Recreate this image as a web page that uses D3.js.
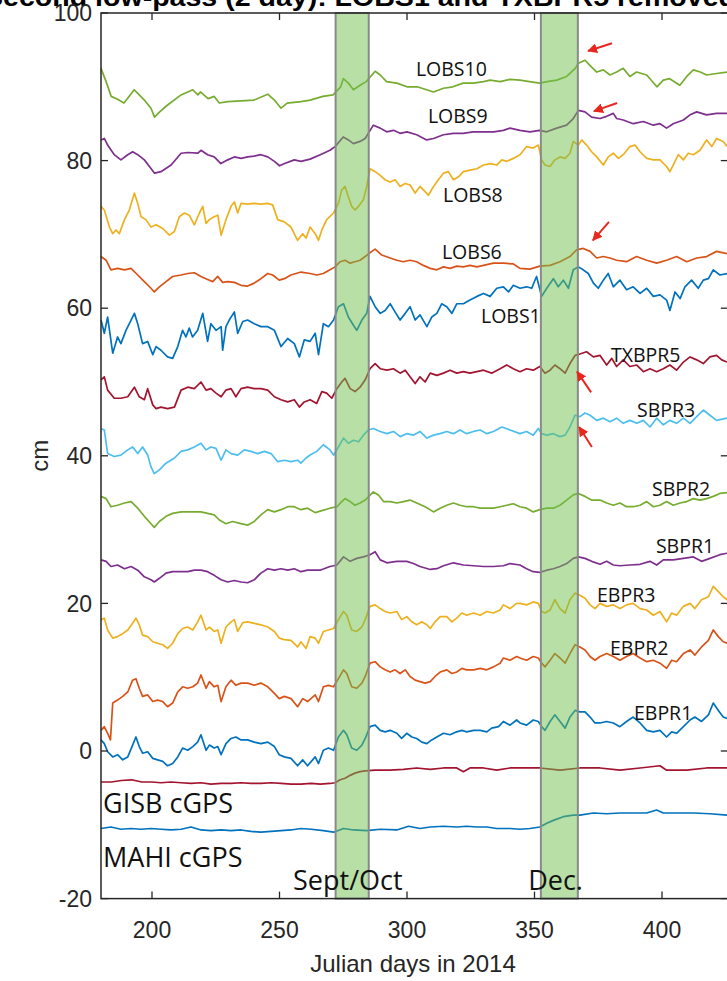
<!DOCTYPE html>
<html>
<head>
<meta charset="utf-8">
<script src="https://cdn.jsdelivr.net/npm/d3@7"></script>
<style>
  html, body { margin: 0; padding: 0; background: #fff; overflow: hidden; }
  #chart_div { width: 727px; height: 981px; }
  .tick-font { font-family: "Liberation Sans", Arial, sans-serif; fill: #262626; }
  .series-font { font-family: "Open Sans", "Noto Sans", sans-serif; fill: #111; }
</style>
</head>
<body>
<div id="chart_div"></div>
<script>
// day-of-year / cm readings for each station
const lobs10 = [[180,92.5],[182,90.7],[184,88.7],[186.5,88.3],[189,87.8],[191,88.7],[193,89.6],[195,88.9],[197,88.2],[199.6,87.1],[201,85.9],[203,86.6],[206,87.5],[211.4,88.9],[216,89.6],[218,88.9],[219,89.3],[222,88.4],[224.4,88.7],[226.4,87.8],[229.7,88.0],[235,88.1],[240,88.2],[245.4,89.0],[248,88.2],[250.6,87.1],[253,87.8],[258.4,88.0],
  [262,88.2],[267,88.7],[271,88.9],[274,90.0],[275,91.1],[277,90.5],[279,89.6],[281.6,90.2],[284,90.7],[287.5,92.1],[289.5,91.6],[292,90.7],[296,90.5],[300,90.0],[304,90.0],[307.7,89.6],[310.4,89.3],[314.3,89.8],[318,90.0],[322,90.5],[326,90.5],[330,90.7],[332.6,90.9],[336.5,90.7],[340.4,91.0],
  [344.3,90.9],[348,90.7],[352,90.5],[355,90.7],[358.7,90.9],[362.6,91.4],[366,92.5],[367.2,93.2],[369.8,93.6],[371.7,92.9],[374.4,92.0],[377,92.3],[379.6,91.6],[382.2,92.0],[384.8,92.5],[387.4,91.4],[390,92.0],[394,91.6],[398,90.0],[400.5,90.9],[403,91.1],[407,90.2],[409.7,91.4],[412.3,92.3],[415,92.0],[417.5,91.6],[421.4,91.8],[425.5,92.0]];

const lobs9 = [[180,82.8],[181.3,83.0],[182.6,82.1],[185.2,80.8],[187.8,80.1],[190.5,80.8],[192.4,81.2],[194.4,80.8],[197,80.1],[199,79.2],[201,78.3],[203.5,78.5],[207.5,79.4],[211.4,81.0],[214,81.1],[218,81.0],[219.2,81.4],[221.8,80.8],[224.4,80.5],[227,79.6],[229.7,80.1],[232.3,80.5],[235,80.3],[237.5,80.5],[240,80.6],[242.7,80.8],[245.4,80.5],[248,79.9],[250,79.3],[252,79.6],[255.8,80.1],[258.4,79.9],
  [262,80.2],[266,80.8],[269.8,81.4],[271.8,81.9],[275,83.2],[277,82.8],[279,82.3],[281.6,82.6],[283.6,83.0],[286.8,84.8],[289.5,84.4],[292,83.9],[294.7,84.1],[297.3,83.7],[300,83.9],[303.8,83.5],[307.7,82.8],[310.4,83.0],[314.3,83.5],[318.2,83.7],[322,83.7],[326,83.9],[330,83.9],[334,83.9],[337.8,84.1],[340.4,84.4],
  [344.3,84.1],[348.2,83.9],[352,84.1],[354.8,83.9],[358.7,84.4],[362.6,84.8],[365.2,85.7],[367.2,86.8],[369.8,86.6],[372.4,85.9],[375.7,85.7],[378.3,86.0],[380.9,86.4],[382.2,85.7],[384.8,85.5],[388.7,85.0],[392.7,85.3],[396.6,84.8],[399.2,85.0],[401.8,84.4],[404.4,85.0],[408.4,85.5],[411,86.2],[413.6,86.6],[417.5,86.2],[421.4,86.4],[425.5,86.4]];

const lobs8 = [[180,73.8],[181.3,73.3],[183.3,71.0],[184.6,70.1],[185.9,70.6],[187.2,70.1],[189.2,72.0],[191.1,73.3],[193.1,75.6],[194.4,74.2],[195.7,72.4],[197.6,72.0],[199.6,71.0],[201.6,71.3],[204.2,70.8],[206.8,69.9],[208.8,70.4],[210.7,72.4],[212.7,72.9],[214.6,72.6],[216.6,71.3],[218.6,72.9],[219.9,73.8],[221.2,71.5],[222.5,72.0],[224.4,72.4],[225.8,72.6],[227.1,69.9],[229,72.0],[231,73.8],[232.3,74.4],[233.6,72.9],[234.9,74.2],[237.5,74.1],[240,74.2],[242.7,74.1],[245.4,74.2],[247.3,74.0],[249.3,72.0],[251.9,71.7],[254.5,71.0],[257.1,69.2],[259.1,70.1],[260.4,69.5],
  [262,71.0],[264,70.1],[265.3,69.2],[266.6,70.6],[268.5,72.0],[271.2,72.9],[273.1,74.2],[274.4,76.0],[275.7,76.5],[277,75.1],[278.3,73.8],[279.6,73.3],[281,73.8],[282.9,74.7],[284.2,76.5],[285.5,78.9],[287.5,78.5],[289.5,78.0],[291.4,77.4],[293.4,77.1],[295.3,77.4],[297.3,76.5],[299.3,76.9],[301.2,76.7],[303.2,75.6],[305.1,76.5],[307.1,75.8],[308.4,75.3],[310.4,76.5],[312.3,77.4],[314.3,78.3],[316.2,78.5],[318.2,77.4],[320.2,77.8],[322.1,78.5],[324.7,78.7],[327.4,78.9],[330,79.4],[332.6,79.6],[335.2,79.4],[337.2,80.1],[339.1,79.9],[341.7,80.3],
  [344.3,80.8],[346.9,81.9],[349.5,81.7],[351.5,82.1],[352.8,80.1],[354.1,79.4],[356.1,79.2],[358,80.1],[360,80.5],[362,80.3],[363.9,81.0],[365.2,82.6],[367.2,82.1],[368.5,82.8],[370.4,82.1],[372.4,81.2],[374.4,80.5],[377,79.4],[378.9,80.5],[380.9,81.0],[382.9,80.3],[384.8,80.8],[387.4,81.9],[389.4,82.1],[391.4,81.2],[394,80.3],[396.6,80.1],[399.2,80.1],[401.8,79.2],[403.1,78.5],[404.4,79.4],[406.4,80.8],[408.4,80.1],[410.3,81.0],[412.3,80.8],[414.9,81.4],[417.5,82.8],[419.5,81.9],[421.4,83.0],[424,82.6],[425.5,81.9]];

const lobs6 = [[180,67.0],[182,66.5],[183.9,65.2],[186.5,65.4],[189.2,65.2],[191.8,65.4],[194.4,64.5],[197,63.6],[199.6,62.7],[200.9,62.2],[202.9,62.9],[205.5,63.6],[208.1,64.3],[211.4,64.5],[214,64.7],[216.6,64.8],[219.2,64.3],[221.8,63.9],[223.8,63.6],[225.8,64.3],[227.7,63.5],[229.7,63.6],[232.3,63.5],[234.9,63.1],[237.5,63.0],[240.1,63.4],[242.7,64.0],[245.4,64.7],[247.3,64.5],[249.9,63.8],[251.9,64.0],[254.5,64.5],[258.4,64.9],
  [262,64.7],[264.6,64.5],[267.2,64.7],[269.8,65.2],[271.8,65.6],[273.8,66.3],[275.7,66.5],[277.7,66.1],[279.6,66.3],[281.6,66.5],[283.6,67.0],[286.2,67.7],[287.5,68.0],[290.1,67.2],[293.4,66.8],[296,66.5],[298.6,66.3],[301.2,66.5],[303.8,66.3],[306.4,65.8],[309.1,65.4],[311.7,65.2],[314.3,65.6],[316.9,65.4],[319.5,65.7],[322.1,65.6],[324.7,65.8],[327.4,65.6],[330,65.8],[333.9,66.1],[337.8,66.1],[341.7,66.0],
  [344.3,65.4],[348.2,65.3],[352.1,65.7],[356.1,65.8],[360,66.3],[363.9,67.0],[366.5,67.9],[369.1,68.1],[371.8,67.7],[374.4,66.8],[377,67.0],[379.6,66.8],[382.2,66.5],[386.1,66.3],[390,67.0],[394,66.5],[397.9,66.1],[401.8,66.5],[405.7,67.0],[409.7,66.3],[413.6,66.8],[417.5,67.0],[421.4,67.7],[425.5,67.4]];

const lobs1 = [[180,58.4],[181.3,56.6],[182.6,58.8],[184.6,53.9],[186.5,56.1],[187.8,55.2],[189.8,57.0],[191.8,58.4],[193.1,59.3],[194.4,57.9],[196.3,55.2],[198.3,55.5],[200.3,53.7],[201.6,54.8],[203.5,54.3],[206.1,53.4],[208.1,53.2],[210.1,54.8],[212,57.0],[213.3,56.1],[214.6,57.3],[215.9,56.1],[217.9,57.0],[219.9,59.3],[221.8,55.5],[223.1,57.9],[225.1,57.0],[227.1,57.5],[227.7,54.3],[229,57.5],[230.3,58.4],[232.3,59.5],[233.6,56.6],[235.6,58.2],[237.5,58.4],[240.1,57.9],[242.7,57.5],[245.4,57.5],[248,57.0],[250.6,54.8],[253.2,55.9],[255.8,55.2],[257.8,53.4],[259.7,55.7],
  [262,55.5],[264,56.6],[265.3,53.7],[267.2,57.9],[269.2,57.5],[271.2,58.4],[273.1,60.2],[275.1,60.6],[277,58.8],[279,57.7],[280.3,57.0],[282.3,58.4],[284.2,59.3],[285.5,61.6],[287.5,60.2],[289.5,59.3],[291.4,59.7],[293.4,60.6],[295.3,59.5],[297.3,58.4],[299.3,59.3],[301.2,60.2],[303.2,58.4],[305.1,59.1],[307.8,57.5],[309.7,58.8],[311.7,59.3],[313.6,60.6],[315.6,60.2],[317.6,59.3],[319.5,60.6],[322.1,60.6],[324.7,61.1],[327.4,61.6],[330,62.0],[332.6,61.6],[335.2,62.7],[337.8,62.9],[339.8,62.2],[341.7,63.1],
  [344.3,62.7],[346.9,62.9],[348.9,62.7],[350.8,64.3],[352.8,61.6],[354.8,62.7],[357.4,64.0],[359.3,62.9],[361.3,63.8],[363.3,62.7],[365.2,65.2],[367.2,65.6],[369.1,65.2],[371.1,64.7],[373.1,63.4],[375,62.7],[377,63.8],[378.9,64.7],[380.9,62.9],[383.5,63.8],[386.1,62.5],[388.7,62.9],[391.4,62.0],[394,62.7],[396.6,61.6],[399.2,61.8],[401.8,61.1],[403.1,59.7],[405.1,62.2],[407.1,61.3],[409,62.9],[411.6,63.8],[414.2,62.7],[416.2,63.8],[418.2,64.0],[420.1,65.2],[422.7,64.5],[425.5,64.7]];

const txbpr5 = [[180,50.3],[181.3,50.7],[182.6,48.9],[185.2,47.8],[187.8,47.8],[190.5,48.0],[193.1,49.3],[195,48.0],[197,47.6],[198.3,49.1],[200.3,46.9],[201.6,46.4],[203.5,46.6],[206.1,46.4],[208.8,46.6],[211.4,48.9],[214,49.3],[216.6,49.1],[219.2,50.0],[221.2,48.9],[223.1,49.1],[225.1,48.5],[227.1,48.0],[229,48.9],[231,49.1],[232.9,48.0],[234.9,49.1],[237.5,49.3],[240.1,49.1],[242.7,49.1],[245.4,48.9],[248,48.0],[250.6,47.6],[253.2,47.3],[255.8,47.6],[257.8,46.6],[259.7,47.3],
  [262,47.6],[264.6,47.1],[266.6,48.7],[268.5,48.5],[270.5,47.8],[272.5,49.1],[274.4,50.0],[275.7,50.5],[277.7,49.1],[279.6,48.7],[281.6,49.3],[283.6,50.3],[285.5,51.8],[287.5,52.5],[289.5,51.8],[292.1,51.6],[294.7,51.8],[297.3,51.2],[299.3,51.6],[301.2,50.7],[303.2,49.8],[305.1,50.7],[307.1,50.0],[309.1,51.2],[311.7,50.9],[314.3,51.2],[316.9,51.6],[319.5,51.2],[322.1,51.4],[324.7,51.2],[327.4,51.4],[330,51.6],[333.2,51.2],[336.5,51.8],[339.1,52.3],[341.7,51.8],
  [344.3,51.4],[346.9,51.8],[349.5,51.6],[352.1,52.1],[354.1,51.2],[356.1,51.6],[358,52.3],[360,51.8],[362,51.2],[363.9,52.5],[365.9,53.6],[367.8,53.8],[370.4,54.1],[373.1,53.4],[375.7,53.6],[378.3,52.3],[380.3,53.2],[382.2,52.1],[384.8,53.0],[387.4,52.1],[390.1,52.3],[392.7,51.4],[395.3,51.8],[397.9,51.4],[400.5,51.8],[403.1,52.3],[405.7,51.6],[408.4,52.7],[411,53.4],[413.6,53.0],[416.2,52.5],[418.8,53.4],[421.4,53.6],[423.4,53.0],[425.5,52.7]];

const sbpr3 = [[180,43.7],[181.3,43.5],[182.6,40.3],[185.2,39.9],[187.8,40.1],[190.5,40.8],[192.4,41.2],[194.4,40.3],[196.3,41.2],[198.3,40.1],[199.6,38.5],[200.9,37.6],[202.9,38.1],[205.5,39.0],[208.8,39.7],[211.4,40.6],[214,40.8],[216.6,41.2],[219.2,41.7],[221.2,40.8],[223.1,41.2],[225.1,41.0],[227.1,39.4],[229,40.8],[231,40.3],[233.6,40.1],[236.2,40.8],[238.8,40.6],[241.4,40.3],[244.1,40.6],[246.7,40.3],[249.3,39.2],[251.9,39.4],[254.5,39.2],[257.1,39.4],[258.4,39.0],[260.4,39.7],
  [262,40.1],[264.6,40.6],[267.2,41.5],[269.8,40.8],[271.2,40.1],[273.1,41.2],[275.1,42.4],[277,41.7],[279,42.1],[281,41.9],[282.9,42.8],[284.9,43.5],[286.8,43.7],[289.5,43.3],[292.1,43.0],[294.7,43.3],[297.3,42.6],[299.9,43.0],[302.5,42.8],[305.1,43.3],[307.8,42.4],[310.4,42.8],[313,43.0],[315.6,43.3],[318.2,43.0],[320.8,43.5],[323.4,43.0],[326.1,43.3],[328.7,43.5],[331.3,43.0],[333.9,43.3],[337.2,43.9],[340.4,43.5],
  [344.3,43.0],[346.9,43.3],[349.5,42.8],[351.5,43.7],[352.8,43.0],[354.8,42.8],[357.4,43.0],[360,42.6],[362,42.8],[363.9,43.9],[365.9,45.5],[367.8,45.3],[369.8,45.8],[371.8,45.5],[374.4,44.8],[377,45.1],[379.6,44.6],[382.2,45.1],[384.8,44.4],[387.4,44.8],[390.1,44.4],[392.7,44.8],[395.3,43.9],[397.9,45.1],[400.5,44.2],[403.1,44.8],[405.7,44.4],[408.4,45.1],[411,44.4],[413.6,45.3],[416.2,46.2],[418.8,45.5],[421.4,44.8],[425.5,45.1]];

const sbpr2 = [[180,34.5],[182,34.2],[183.9,33.1],[186.5,33.3],[189.2,33.6],[191.8,33.8],[194.4,32.9],[197,31.8],[199.6,30.8],[200.9,30.3],[202.9,31.1],[205.5,31.8],[208.1,32.2],[211.4,32.4],[214,32.4],[216.6,32.4],[219.2,32.4],[221.8,32.2],[224.4,32.0],[226.4,31.3],[229,30.8],[231.6,31.1],[234.9,30.8],[237.5,30.6],[240.1,31.1],[242.7,32.0],[245.4,32.7],[248,32.4],[250.6,32.7],[253.2,33.1],[255.8,33.1],[258.4,32.7],[261,32.9],
  [264,32.3],[269.8,32.9],[272.5,33.1],[274.4,33.8],[275.7,34.2],[277.7,33.8],[279.6,33.3],[281.6,33.6],[283.6,34.0],[286.8,35.1],[288.8,34.7],[290.8,33.8],[293.4,33.8],[296,33.6],[298.6,33.8],[301.2,34.0],[303.8,33.6],[307.1,33.1],[310.4,32.4],[313,32.9],[315.6,33.3],[318.2,33.6],[320.8,33.3],[323.4,33.1],[326.1,33.1],[328.7,32.9],[331.3,32.9],[333.9,32.9],[336.5,33.1],[339.1,33.3],[341.7,33.5],
  [344.3,33.1],[346.9,32.9],[349.5,32.4],[352.1,32.7],[354.8,32.9],[357.4,32.9],[360,33.3],[362.6,34.0],[365.2,34.7],[367.2,34.9],[369.8,34.5],[372.4,34.0],[375.7,34.0],[378.3,33.6],[380.9,33.3],[383.5,33.6],[386.1,33.1],[388.7,33.1],[391.4,33.3],[394,33.8],[396.6,33.1],[399.2,33.3],[401.8,33.8],[404.4,33.3],[407.1,33.6],[409.7,33.8],[412.3,34.2],[414.9,34.0],[417.5,34.2],[420.1,34.5],[422.7,34.9],[425.5,35.0]];

const sbpr1 = [[180,25.9],[182,25.7],[183.9,25.0],[186.5,25.2],[189.2,24.7],[191.8,25.0],[194.4,24.5],[197,23.6],[199.6,23.2],[200.9,22.9],[202.9,23.4],[205.5,24.1],[208.1,24.3],[211.4,24.3],[214,24.3],[216.6,24.5],[219.2,24.5],[221.8,24.3],[224.4,23.8],[227.1,23.2],[229.7,22.9],[232.3,23.1],[234.9,22.9],[237.5,22.8],[240.1,23.2],[242.7,24.1],[245.4,24.7],[248,24.5],[250.6,24.7],[253.2,24.5],[255.8,24.7],[258.4,24.3],[261,24.5],
  [265.9,24.5],[269.8,25.0],[272.5,25.2],[275.1,26.3],[277.7,25.7],[280.3,26.1],[282.9,26.3],[285.5,26.6],[287.5,27.0],[289.5,25.9],[292.1,25.5],[296,25.7],[299.9,25.7],[302.5,25.4],[305.1,25.0],[309.1,24.6],[311.7,24.7],[314.3,25.1],[318.2,25.5],[322.1,25.2],[326.1,25.1],[330,25.0],[333.9,25.0],[337.8,25.1],[340.4,25.4],
  [344.3,25.2],[346.9,24.7],[349.5,24.3],[352.1,24.2],[354.8,24.5],[357.4,24.7],[360,25.0],[362.6,25.4],[365.2,26.1],[367.2,26.3],[369.8,26.1],[372.4,25.7],[375.7,25.3],[378.3,25.7],[380.9,25.2],[383.5,25.1],[387.4,25.2],[391.4,25.3],[395.3,25.7],[397.9,25.2],[400.5,25.9],[404.4,25.9],[408.4,26.1],[412.3,26.3],[415.5,25.7],[418.8,26.1],[422.7,26.6],[425.5,26.8]];

const ebpr3 = [[180,17.8],[181.3,18.0],[182.6,16.4],[184.6,15.3],[186.5,15.5],[188.5,15.9],[190.5,16.4],[192.4,17.3],[193.7,18.0],[195,17.1],[196.3,15.7],[198.3,15.5],[200.3,14.8],[202.2,14.6],[204.2,14.4],[206.1,13.9],[208.1,14.6],[210.1,15.9],[212,16.6],[214,16.8],[216,16.4],[217.9,17.5],[219.2,18.4],[221.2,16.4],[222.5,16.8],[224.4,16.2],[225.8,16.4],[227.1,14.6],[229,16.8],[231,17.5],[232.3,17.8],[233.6,16.2],[235.6,17.4],[237.5,17.5],[240.1,17.3],[242.7,17.1],[245.4,16.8],[248,16.2],[249.9,15.3],[251.9,15.1],[254.5,15.0],[257.1,14.1],[258.4,14.8],[260.4,13.9],
  [262,15.5],[264,15.3],[265.3,14.6],[267.2,16.2],[269.2,16.4],[271.2,16.6],[273.1,17.8],[275.1,18.9],[276.4,18.4],[278.3,16.4],[280.3,16.2],[282.3,16.8],[283.6,17.8],[285.5,19.6],[287.5,19.8],[289.5,19.3],[291.4,18.9],[293.4,18.7],[296,18.9],[297.9,17.8],[299.9,18.2],[301.9,17.5],[303.8,17.1],[305.8,17.5],[307.8,17.1],[309.1,16.6],[311,17.5],[313,18.2],[315.6,18.2],[317.6,17.5],[319.5,18.0],[321.5,18.7],[323.4,18.4],[326.1,18.7],[328.7,18.4],[331.3,18.9],[333.9,18.7],[336.5,19.1],[337.8,19.8],[340.4,19.3],[343,20.0],
  [344.3,20.0],[346.9,19.8],[349.5,20.2],[351.5,20.0],[352.8,18.9],[354.1,18.7],[356.1,19.1],[358,20.5],[360,19.3],[362,18.7],[363.9,20.5],[365.9,21.4],[367.8,21.1],[369.8,20.7],[371.8,19.8],[373.7,19.3],[375.7,20.0],[378.3,19.6],[380.9,19.8],[383.5,19.3],[386.1,19.8],[388.7,20.0],[391.4,19.3],[394,19.1],[396.6,18.4],[399.2,18.9],[401.8,17.5],[403.8,18.7],[405.7,18.4],[408.4,19.6],[411,20.0],[412.9,19.3],[415.5,20.5],[418.2,20.9],[420.1,22.3],[422.1,21.6],[424,20.9],[425.5,20.5]];

const ebpr2 = [[180,2.8],[181.3,3.3],[182.6,2.4],[183.7,1.5],[184.6,6.5],[186.5,6.9],[188.5,7.4],[190.5,8.0],[192.4,9.6],[193.7,9.8],[195,8.5],[196.3,7.4],[198.3,7.6],[200.3,6.7],[202.2,6.9],[204.2,6.7],[206.1,6.0],[208.1,6.5],[210.1,8.0],[212,8.7],[214,8.5],[216,8.7],[217.9,9.2],[219.2,10.3],[221.2,8.5],[222.5,9.4],[224.4,8.7],[225.8,8.9],[227.1,6.7],[229,8.7],[231,9.6],[232.9,8.9],[234.9,9.2],[237.5,9.2],[240.1,8.9],[242.7,9.2],[245.4,8.7],[248,7.8],[249.9,7.1],[251.9,7.4],[254.5,7.1],[257.1,6.0],[259.1,7.1],[261,6.7],
  [264,7.6],[265.3,6.7],[267.2,8.7],[269.2,8.9],[271.2,8.7],[273.1,9.8],[275.1,11.0],[276.4,10.5],[278.3,8.7],[280.3,8.5],[282.3,9.2],[283.6,10.1],[285.5,11.9],[287.5,12.1],[289.5,11.4],[291.4,11.0],[293.4,10.7],[295.3,11.0],[297.3,10.5],[299.3,11.0],[301.2,10.1],[303.2,9.6],[305.1,9.4],[307.1,9.2],[309.1,9.4],[311,10.1],[313,10.7],[315.6,11.0],[317.6,10.5],[319.5,10.7],[321.5,11.2],[323.4,11.0],[326.1,11.0],[328.7,11.2],[331.3,11.0],[333.9,11.4],[336.5,11.9],[337.8,12.6],[340.4,12.3],[343,12.8],
  [344.3,12.6],[346.9,12.3],[349.5,12.8],[351.5,12.6],[352.8,11.9],[354.1,11.4],[356.1,12.3],[358,13.2],[360,12.6],[362,11.9],[363.9,13.2],[365.9,14.4],[367.8,14.1],[369.8,13.7],[371.8,12.8],[373.7,12.3],[375.7,12.8],[378.3,13.2],[380.9,12.8],[383.5,12.3],[386.1,12.8],[388.7,13.2],[391.4,12.6],[394,12.1],[396.6,12.3],[399.2,11.9],[401.8,11.2],[403.8,12.3],[405.7,12.1],[408.4,13.2],[411,13.7],[412.9,13.0],[415.5,14.1],[418.2,15.0],[420.1,16.4],[422.1,15.5],[424,14.8],[425.5,14.6]];

const ebpr1 = [[180,1.5],[181.3,1.0],[182.6,-0.1],[184.6,-0.8],[186.5,-0.5],[188.5,-1.2],[190.5,-0.8],[192.4,0.8],[193.7,1.9],[195,0.6],[196.3,-0.3],[198.3,-0.1],[200.3,-1.0],[202.2,-1.2],[204.2,-1.4],[206.1,-2.0],[208.1,-1.7],[210.1,-0.8],[212,0.4],[214,0.1],[216,0.6],[217.9,1.2],[219.2,2.2],[221.2,0.1],[222.5,0.8],[224.4,0.4],[225.8,0.6],[227.1,-0.5],[229,1.0],[231,1.7],[232.9,1.9],[234.9,1.5],[237.5,1.5],[240.1,1.2],[242.7,1.0],[245.4,1.2],[248,0.6],[249.9,-0.5],[251.9,-0.8],[254.5,-1.0],[257.1,-2.0],[259.1,-1.2],[261,-2.0],
  [264,-0.8],[265.3,-1.7],[267.2,0.1],[269.2,0.4],[271.2,0.1],[273.1,1.9],[275.1,2.8],[276.4,2.2],[278.3,0.4],[280.3,0.1],[282.3,0.8],[283.6,1.7],[285.5,3.3],[287.5,3.5],[289.5,2.8],[291.4,2.6],[293.4,2.8],[296,2.4],[297.9,1.7],[299.9,2.4],[301.9,1.9],[303.8,1.7],[305.8,1.2],[307.8,1.0],[309.7,1.5],[311.7,1.9],[314.3,2.4],[316.9,2.2],[319.5,2.6],[321.5,2.8],[323.4,2.6],[326.1,2.8],[328.7,2.8],[331.3,2.6],[333.2,3.1],[335.9,3.3],[337.8,4.0],[340.4,3.5],[343,4.2],
  [344.3,3.8],[346.9,3.5],[349.5,4.2],[351.5,4.0],[352.8,3.3],[354.1,2.8],[356.1,4.0],[358,4.9],[360,4.0],[362,3.1],[363.9,4.6],[365.9,5.5],[367.8,5.3],[369.8,5.3],[371.8,4.6],[373.7,3.8],[375.7,3.8],[378.3,4.0],[380.9,3.8],[383.5,3.3],[386.1,4.0],[388.7,4.6],[391.4,3.8],[394,2.8],[396.6,2.6],[399.2,2.8],[401.8,1.9],[403.8,2.6],[405.7,2.4],[408.4,3.3],[411,4.2],[412.9,4.6],[415.5,4.0],[418.2,4.9],[420.1,6.5],[422.1,5.5],[424,4.6],[425.5,4.4]];

const gisb = [[180,-4.2],[184,-4.2],[188,-4.0],[192,-3.9],[196,-4.2],[200,-4.2],[203.5,-4.3],[207.5,-4.2],[211.4,-4.3],[215.3,-4.4],[219.2,-4.3],[223.1,-4.5],[227.1,-4.4],[231,-4.4],[234.9,-4.3],[238.8,-4.4],[242.7,-4.4],[246.7,-4.3],[250.6,-4.4],[254.5,-4.5],[258.4,-4.5],[262.4,-4.4],
  [266,-4.5],[269.8,-4.4],[271.8,-4.3],[273.8,-3.9],[275.7,-3.7],[277.7,-3.3],[279.6,-3.0],[281.6,-2.8],[283.6,-2.7],[287.5,-2.6],[293.4,-2.6],[298.6,-2.5],[303.8,-2.3],[309.1,-2.5],[314.3,-2.3],[319.5,-2.3],[322.1,-2.8],[324.7,-2.3],[330,-2.3],[335.2,-2.6],[340.4,-2.3],
  [344.3,-2.3],[352.1,-2.3],[360,-2.6],[367.8,-2.3],[375.7,-2.3],[383.5,-2.6],[391.4,-2.3],[399.2,-2.0],[401.8,-2.6],[409.7,-2.6],[417.5,-2.3],[425.5,-2.3]];

const mahi = [[180,-10.5],[183.9,-10.3],[187.8,-10.6],[191.8,-10.5],[195.7,-10.6],[199.6,-10.5],[203.5,-10.6],[207.5,-10.7],[211.4,-10.6],[215.3,-10.3],[219.2,-10.7],[223.1,-10.8],[227.1,-10.7],[231,-10.8],[234.9,-10.7],[238.8,-10.9],[242.7,-11.0],[246.7,-10.9],[250.6,-10.8],[254.5,-10.7],[258.4,-10.5],[262.4,-10.6],
  [267.2,-10.8],[271.2,-11.0],[275.1,-10.5],[279,-10.7],[284.2,-10.8],[289.5,-10.6],[296,-10.7],[300.6,-10.2],[305.1,-10.5],[309.1,-10.3],[314.3,-10.2],[319.5,-10.3],[323.4,-10.2],[327.4,-10.3],[331.3,-10.3],[335.2,-10.5],[340.4,-10.5],
  [344.3,-10.6],[348.2,-10.5],[352.1,-10.3],[354.8,-9.8],[357.4,-9.4],[361.3,-8.9],[365.2,-8.7],[367.8,-8.7],[373.1,-8.4],[378.3,-8.5],[383.5,-8.4],[390.1,-8.4],[394,-8.4],[397.9,-8.0],[400.5,-8.4],[405.7,-8.4],[412.3,-8.4],[418.8,-8.5],[425.5,-8.7]];

const seriesNames = ["LOBS10", "LOBS9", "LOBS8", "LOBS6", "LOBS1", "TXBPR5", "SBPR3",
  "SBPR2", "SBPR1", "EBPR3", "EBPR2", "EBPR1", "GISB cGPS", "MAHI cGPS"];
const seriesData = [lobs10, lobs9, lobs8, lobs6, lobs1, txbpr5, sbpr3,
  sbpr2, sbpr1, ebpr3, ebpr2, ebpr1, gisb, mahi];

// label anchors (day, cm) for the station names
const labelPos = [[303.5,91.5],[308.2,85.1],[314.1,74.4],[313.7,66.7],[329,58.0],[380,52.7],[390.2,45.3],
  [396.1,34.6],[397.6,26.8],[374.5,20.2],[379.6,13.0],[389,4.2],[180.8,-8.4],[180.8,-15.7]];

// shaded event windows
const eventNames = ["Sept/Oct", "Dec."];
const eventDays = [[272, 285], [352.5, 367]];
const eventLabelPos = [[255.3, -18.8], [347.5, -18.8]];

// red arrows: [tailDay, tailCm, headDay, headCm]
const arrows = [[380.4,95.9,371,94.85],[382.4,87.8,373.3,86.7],[379.2,71.7,372.9,69.2],
  [372.2,48.6,366.7,51.4],[372.5,41.2,367.5,43.9]];

const xTicks = [200, 250, 300, 350, 400];
const yTicks = [-20, 0, 20, 40, 60, 80, 100];

const width = 727,
  height = 981,
  margin = { top: 13, left: 101 },
  plotRight = 727.8,
  plotBottom = 898.6;

const lineColors = ["#77AC30", "#7E2F8E", "#EDB120", "#D95319", "#0072BD", "#A2142F", "#4DBEEE",
  "#77AC30", "#7E2F8E", "#EDB120", "#D95319", "#0072BD", "#A2142F", "#0072BD"];

const svg = d3
  .select("#chart_div")
  .append("svg")
  .attr("width", width)
  .attr("height", height);

const x = d3.scaleLinear().domain([180, 425.8]).range([margin.left, plotRight]);
const y = d3.scaleLinear().domain([-20, 100]).range([plotBottom, margin.top]);

// title (cut off by the top of the picture)
svg
  .append("text")
  .attr("x", -16)
  .attr("y", 6)
  .attr("textLength", 752)
  .attr("lengthAdjust", "spacingAndGlyphs")
  .style("font-family", "Liberation Sans, Arial, sans-serif")
  .style("font-weight", "bold")
  .style("font-size", "26px")
  .style("fill", "#000")
  .text("Second low-pass (2 day): LOBS1 and TXBPR5 removed");

const plot = svg.append("g");

const line = d3
  .line()
  .x(function (d) {
    return x(d[0]);
  })
  .y(function (d) {
    return y(d[1]);
  });

plot
  .selectAll(".series")
  .data(seriesData)
  .enter()
  .append("path")
  .attr("class", "series")
  .attr("d", line)
  .attr("fill", "none")
  .attr("stroke", function (d, i) {
    return lineColors[i];
  })
  .attr("stroke-width", 1.7)
  .attr("stroke-linejoin", "round");

// green bands sit on top of the lines
plot
  .selectAll(".band")
  .data(eventDays)
  .enter()
  .append("rect")
  .attr("class", "band")
  .attr("x", function (d) {
    return x(d[0]);
  })
  .attr("width", function (d) {
    return x(d[1]) - x(d[0]);
  })
  .attr("y", y(100))
  .attr("height", y(-20) - y(100))
  .attr("fill", "rgb(111,191,77)")
  .attr("fill-opacity", 0.5)
  .attr("stroke", "#8a8a8a")
  .attr("stroke-width", 2);

// axes frame with inward ticks
const axisColor = "#262626";
const frame = svg.append("g");

frame
  .append("rect")
  .attr("x", margin.left)
  .attr("y", margin.top)
  .attr("width", plotRight - margin.left)
  .attr("height", plotBottom - margin.top)
  .attr("fill", "none")
  .attr("stroke", axisColor)
  .attr("stroke-width", 1.5);

const tickLen = 7;

xTicks.forEach(function (t) {
  frame
    .append("line")
    .attr("x1", x(t))
    .attr("x2", x(t))
    .attr("y1", plotBottom)
    .attr("y2", plotBottom - tickLen)
    .attr("stroke", axisColor)
    .attr("stroke-width", 1.3);
  frame
    .append("line")
    .attr("x1", x(t))
    .attr("x2", x(t))
    .attr("y1", margin.top)
    .attr("y2", margin.top + tickLen)
    .attr("stroke", axisColor)
    .attr("stroke-width", 1.3);
  svg
    .append("text")
    .attr("class", "tick-font")
    .attr("x", x(t))
    .attr("y", plotBottom + 39)
    .attr("text-anchor", "middle")
    .style("font-size", "23px")
    .text(t);
});

yTicks.forEach(function (t) {
  frame
    .append("line")
    .attr("x1", margin.left)
    .attr("x2", margin.left + tickLen)
    .attr("y1", y(t))
    .attr("y2", y(t))
    .attr("stroke", axisColor)
    .attr("stroke-width", 1.3);
  frame
    .append("line")
    .attr("x1", plotRight)
    .attr("x2", plotRight - tickLen)
    .attr("y1", y(t))
    .attr("y2", y(t))
    .attr("stroke", axisColor)
    .attr("stroke-width", 1.3);
  svg
    .append("text")
    .attr("class", "tick-font")
    .attr("x", margin.left - 9)
    .attr("y", y(t))
    .attr("dy", "0.36em")
    .attr("text-anchor", "end")
    .style("font-size", "23px")
    .text(t);
});

svg
  .append("text")
  .attr("class", "tick-font")
  .attr("x", 413)
  .attr("y", 972)
  .attr("text-anchor", "middle")
  .style("font-size", "24px")
  .text("Julian days in 2014");

svg
  .append("text")
  .attr("class", "tick-font")
  .attr("transform", "translate(48," + y(40) + ") rotate(-90)")
  .attr("text-anchor", "middle")
  .style("font-size", "24px")
  .text("cm");

// station labels
svg
  .selectAll(".station-label")
  .data(seriesNames)
  .enter()
  .append("text")
  .attr("class", "station-label series-font")
  .attr("x", function (d, i) {
    return x(labelPos[i][0]);
  })
  .attr("y", function (d, i) {
    return y(labelPos[i][1]);
  })
  .style("font-size", function (d, i) {
    return i >= 12 ? "27px" : "19.5px";
  })
  .text(function (d) {
    return d;
  });

svg
  .selectAll(".event-label")
  .data(eventNames)
  .enter()
  .append("text")
  .attr("class", "event-label series-font")
  .attr("x", function (d, i) {
    return x(eventLabelPos[i][0]);
  })
  .attr("y", function (d, i) {
    return y(eventLabelPos[i][1]);
  })
  .style("font-size", "27px")
  .text(function (d) {
    return d;
  });

// red arrows
const arrowColor = "#e8281e";
svg
  .append("defs")
  .append("marker")
  .attr("id", "arrow_head")
  .attr("viewBox", "0 0 10 10")
  .attr("refX", 9)
  .attr("refY", 5)
  .attr("markerWidth", 5)
  .attr("markerHeight", 5)
  .attr("orient", "auto")
  .append("path")
  .attr("d", "M0,0 L10,5 L0,10 Z")
  .attr("fill", arrowColor);

svg
  .selectAll(".arrow")
  .data(arrows)
  .enter()
  .append("line")
  .attr("class", "arrow")
  .attr("x1", function (d) {
    return x(d[0]);
  })
  .attr("y1", function (d) {
    return y(d[1]);
  })
  .attr("x2", function (d) {
    return x(d[2]);
  })
  .attr("y2", function (d) {
    return y(d[3]);
  })
  .attr("stroke", arrowColor)
  .attr("stroke-width", 2)
  .attr("marker-end", "url(#arrow_head)");
</script>
</body>
</html>
